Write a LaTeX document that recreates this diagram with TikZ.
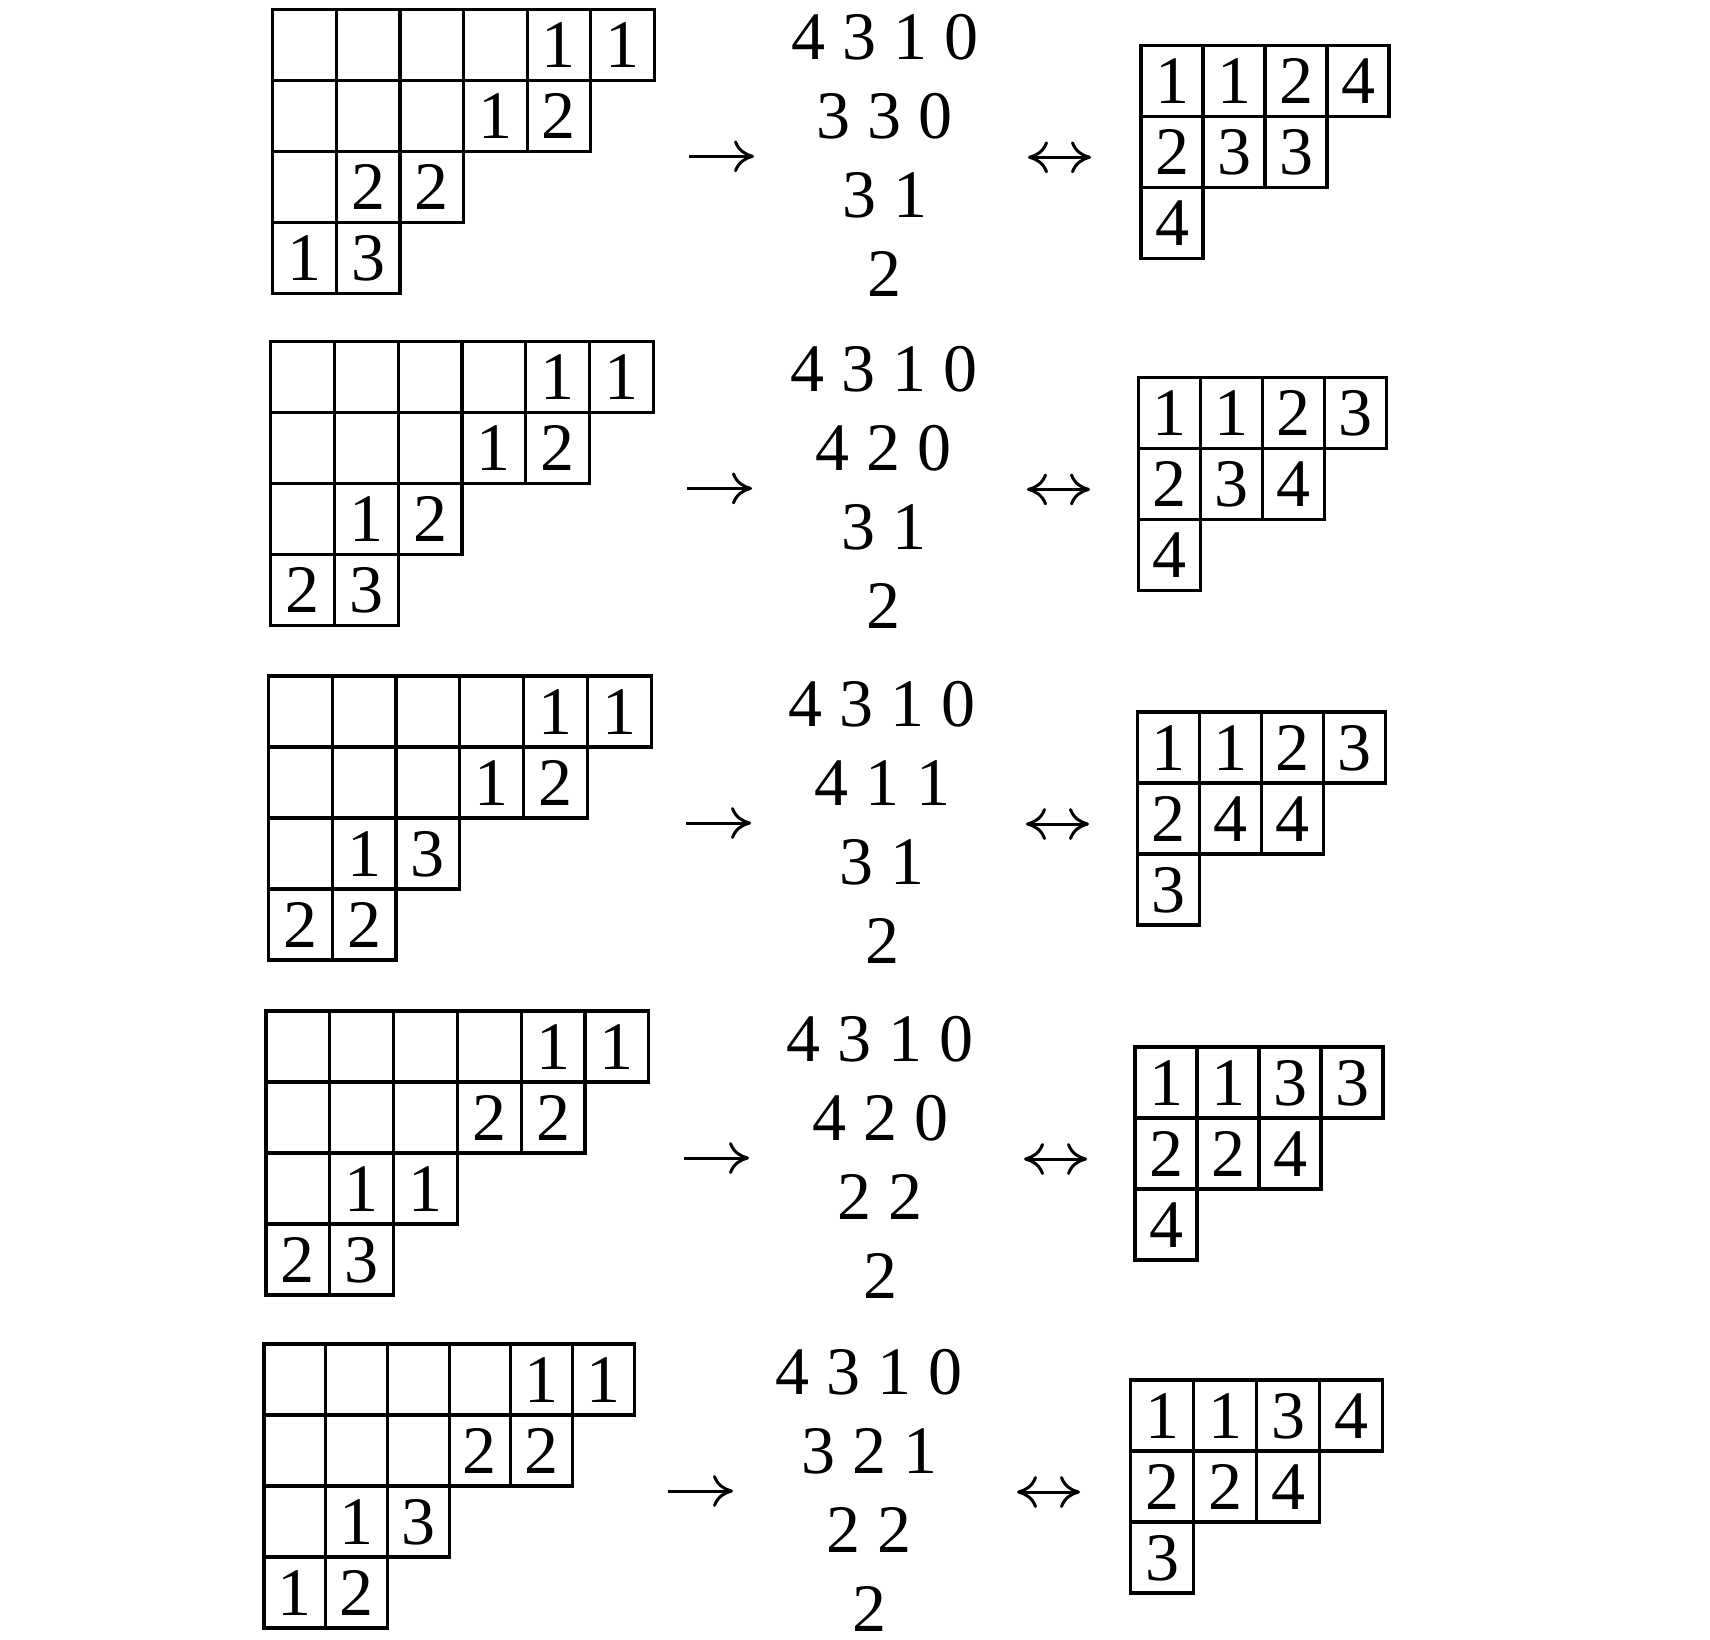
\documentclass[tikz,border=0pt]{standalone}
\usepackage{fontspec}
\setmainfont{Liberation Serif}
\usetikzlibrary{arrows.meta}
\newcommand\onerow[9]{%
  % left tableau
  \foreach \rw [count=\r] in \Lrows {%
    \foreach \e [count=\c] in \rw {%
      \node[cell, minimum width=#4pt] (#1L-\r-\c) at ({#2+(\c-0.5)*#4},{#3+(\r-0.5)*71}) {\if o\e\else\e\fi};
    }%
  }%
  % arrow
  \coordinate (#1a1) at (#5,{#3+147});
  \coordinate (#1a2) at ({#5+65},{#3+147});
  \draw[arr] (#1a1) -- (#1a2);
  % middle array
  \foreach \t [count=\k] in \Mid {%
    \node[midtxt] (#1M\k) at (#6,{#3+50+(\k-1)*79}) {\t};
  }%
  % double arrow
  \coordinate (#1b1) at (#7,{#3+148});
  \coordinate (#1b2) at ({#7+63},{#3+148});
  \draw[darr] (#1b1) -- (#1b2);
  % right tableau
  \foreach \rw [count=\r] in \Rrows {%
    \foreach \e [count=\c] in \rw {%
      \node[cell, minimum width=#9pt] (#1R-\r-\c) at ({#8+(\c-0.5)*#9},{#3+36+(\r-0.5)*71}) {\if o\e\else\e\fi};
    }%
  }%
}
\begin{document}
\begin{tikzpicture}[x=1pt,y=-1pt,
  every node/.style={font=\fontsize{68}{80}\selectfont},
  cell/.style={draw, line width=3.2pt, inner sep=0pt, minimum height=71pt,
    text height=45pt, text depth=0pt, anchor=center},
  midtxt/.style={inner sep=0pt, anchor=base, text depth=0pt},
  arr/.style={line width=3pt, -{To[length=20pt,width=32pt]}},
  darr/.style={line width=3pt, {To[length=20pt,width=32pt]}-{To[length=20pt,width=32pt]}}]
\useasboundingbox (0,0) rectangle (1710,1640);
% row 1
\def\Lrows{{o,o,o,o,1,1},{o,o,o,1,2},{o,2,2},{1,3}}
\def\Mid{4 3 1 0,3 3 0,3 1,2}
\def\Rrows{{1,1,2,4},{2,3,3},{4}}
\onerow{A}{272.7}{9.3}{63.6}{689}{884.5}{1028}{1141}{62}
% row 2
\def\Lrows{{o,o,o,o,1,1},{o,o,o,1,2},{o,1,2},{2,3}}
\def\Mid{4 3 1 0,4 2 0,3 1,2}
\def\Rrows{{1,1,2,3},{2,3,4},{4}}
\onerow{B}{270.5}{341.4}{63.8}{687}{883.5}{1027}{1138.6}{62}
% row 3
\def\Lrows{{o,o,o,o,1,1},{o,o,o,1,2},{o,1,3},{2,2}}
\def\Mid{4 3 1 0,4 1 1,3 1,2}
\def\Rrows{{1,1,2,3},{2,4,4},{3}}
\onerow{C}{268.3}{676}{63.8}{686}{882.3}{1026}{1137.5}{62}
% row 4
\def\Lrows{{o,o,o,o,1,1},{o,o,o,2,2},{o,1,1},{2,3}}
\def\Mid{4 3 1 0,4 2 0,2 2,2}
\def\Rrows{{1,1,3,3},{2,2,4},{4}}
\onerow{D}{266}{1011}{63.8}{684}{880}{1024}{1135}{62}
% row 5
\def\Lrows{{o,o,o,o,1,1},{o,o,o,2,2},{o,1,3},{1,2}}
\def\Mid{4 3 1 0,3 2 1,2 2,2}
\def\Rrows{{1,1,3,4},{2,2,4},{3}}
\onerow{E}{264}{1344}{61.7}{668}{869}{1017}{1130.7}{63}
\end{tikzpicture}
\end{document}
